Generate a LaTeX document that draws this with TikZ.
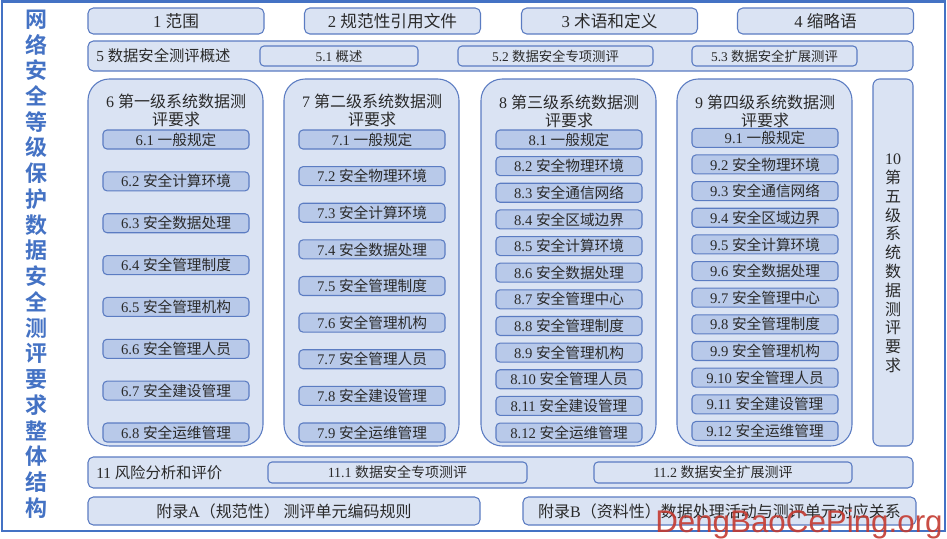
\documentclass[tikz,border=0pt]{standalone}
\usepackage{fontspec}
\setmainfont{Liberation Serif}
\newfontfamily\zh{Noto Sans CJK SC}
\newfontfamily\zhb{Noto Sans CJK SC Bold}
\newfontfamily\wm{Liberation Sans}
\definecolor{fillA}{HTML}{DAE3F3}
\definecolor{fillB}{HTML}{B8C9E9}
\definecolor{edgeA}{HTML}{5B7CC2}
\definecolor{titleblue}{HTML}{4472C4}
\definecolor{txt}{HTML}{2A2A2A}
\definecolor{wmred}{HTML}{C43A30}
\tikzset{
  lightbox/.style={draw=edgeA, line width=0.8pt, fill=fillA, rounded corners=4pt, inner sep=0pt, text=txt},
  itembox/.style={draw=edgeA, line width=0.8pt, fill=fillB, rounded corners=3pt, inner sep=0pt, text=txt,
    minimum width=109.5pt, minimum height=14.25pt, font=\fontsize{11}{12}\selectfont},
  colbox/.style={draw=edgeA, line width=0.8pt, fill=fillA, rounded corners=16pt, inner sep=0pt,
    minimum width=131.25pt, minimum height=275.25pt},
  coltitle/.style={align=center, text=txt, font=\fontsize{12}{13.5}\selectfont, inner sep=0pt},
  toprow/.style={lightbox, minimum width=132pt, minimum height=19.5pt, font=\fontsize{12.5}{13}\selectfont},
  subrow/.style={lightbox, rounded corners=3pt, minimum height=15pt, font=\fontsize{10}{11}\selectfont},
}
\begin{document}
\begin{tikzpicture}[x=0.75pt,y=-0.75pt]
\useasboundingbox (0,0) rectangle (947,539);
\fill[white] (0,0) rectangle (947,539);
% outer frame
\draw[titleblue, line width=1.5pt] (2,1.5) rectangle (945,531);
% vertical title
\node[text=titleblue, font=\zhb\fontsize{16.5}{19.3}\selectfont, align=center, inner sep=0pt] (title) at (37,264)
  {网\\络\\安\\全\\等\\级\\保\\护\\数\\据\\安\\全\\测\\评\\要\\求\\整\\体\\结\\构};
% row 1
\node[toprow] (s1) at (176,21) {1 \zh 范围};
\node[toprow] (s2) at (392.5,21) {2 \zh 规范性引用文件};
\node[toprow] (s3) at (609.5,21) {3 \zh 术语和定义};
\node[toprow] (s4) at (825.5,21) {4 \zh 缩略语};
% row 2
\node[lightbox, minimum width=618.75pt, minimum height=22.5pt] (s5) at (500.5,56) {};
\node[anchor=west, text=txt, inner sep=0pt, font=\fontsize{11.5}{12}\selectfont] (s5t) at (96,56) {5 \zh 数据安全测评概述};
\node[subrow, minimum width=118.5pt] (s51) at (339,56) {5.1 \zh 概述};
\node[subrow, minimum width=146.25pt] (s52) at (555.5,56) {5.2 \zh 数据安全专项测评};
\node[subrow, minimum width=123.75pt] (s53) at (774.5,56) {5.3 \zh 数据安全扩展测评};
% columns
\node[colbox] (c6) at (175.5,262.5) {};
\node[colbox] (c7) at (371.5,262.5) {};
\node[colbox] (c8) at (568.5,262.5) {};
\node[colbox] (c9) at (764.5,262.5) {};
\node[colbox, rounded corners=5pt, minimum width=30pt] (c10) at (893,262.5) {};
\node[coltitle] (t6) at (176,110.5) {6 \zh 第一级系统数据测\\\zh 评要求};
\node[coltitle] (t7) at (372,110.5) {7 \zh 第二级系统数据测\\\zh 评要求};
\node[coltitle] (t8) at (569,111) {8 \zh 第三级系统数据测\\\zh 评要求};
\node[coltitle] (t9) at (765,111) {9 \zh 第四级系统数据测\\\zh 评要求};
\node[coltitle, font=\fontsize{12}{14.1}\selectfont] (t10) at (893,263.5)
  {10\\\zh 第\\\zh 五\\\zh 级\\\zh 系\\\zh 统\\\zh 数\\\zh 据\\\zh 测\\\zh 评\\\zh 要\\\zh 求};
% column 6 items
\foreach \k/\n/\t in {0/1/一般规定,1/2/安全计算环境,2/3/安全数据处理,3/4/安全管理制度,4/5/安全管理机构,5/6/安全管理人员,6/7/安全建设管理,7/8/安全运维管理}
  \node[itembox] (i6-\n) at (176,139.5+41.86*\k) {6.\n\ \zh \t};
% column 7 items
\foreach \k/\n/\t in {0/1/一般规定,1/2/安全物理环境,2/3/安全计算环境,3/4/安全数据处理,4/5/安全管理制度,5/6/安全管理机构,6/7/安全管理人员,7/8/安全建设管理,8/9/安全运维管理}
  \node[itembox] (i7-\n) at (372,139.5+36.625*\k) {7.\n\ \zh \t};
% column 8 items
\foreach \k/\n/\t in {0/1/一般规定,1/2/安全物理环境,2/3/安全通信网络,3/4/安全区域边界,4/5/安全计算环境,5/6/安全数据处理,6/7/安全管理中心,7/8/安全管理制度,8/9/安全管理机构,9/10/安全管理人员,10/11/安全建设管理,11/12/安全运维管理}
  \node[itembox] (i8-\n) at (569,139.5+26.64*\k) {8.\n\ \zh \t};
% column 9 items
\foreach \k/\n/\t in {0/1/一般规定,1/2/安全物理环境,2/3/安全通信网络,3/4/安全区域边界,4/5/安全计算环境,5/6/安全数据处理,6/7/安全管理中心,7/8/安全管理制度,8/9/安全管理机构,9/10/安全管理人员,10/11/安全建设管理,11/12/安全运维管理}
  \node[itembox] (i9-\n) at (765,137.8+26.65*\k) {9.\n\ \zh \t};
% row 11
\node[lightbox, minimum width=618.75pt, minimum height=23.25pt] (s11) at (500.5,472.5) {};
\node[anchor=west, text=txt, inner sep=0pt, font=\fontsize{11.5}{12}\selectfont] (s11t) at (96,472.5) {11 \zh 风险分析和评价};
\node[subrow, minimum width=194.25pt, minimum height=15.75pt, font=\fontsize{10.5}{11}\selectfont] (s111) at (397.5,472.5) {11.1 \zh 数据安全专项测评};
\node[subrow, minimum width=193.5pt, minimum height=15.75pt, font=\fontsize{10.5}{11}\selectfont] (s112) at (723,472.5) {11.2 \zh 数据安全扩展测评};
% appendices
\node[lightbox, minimum width=294pt, minimum height=21pt, font=\fontsize{12}{13}\selectfont] (apA) at (284,511)
  {\zh 附录{\rmfamily A}（规范性） 测评单元编码规则};
\node[lightbox, minimum width=294.75pt, minimum height=21pt, font=\fontsize{12}{13}\selectfont] (apB) at (719.5,511)
  {\zh 附录{\rmfamily B}（资料性）数据处理活动与测评单元对应关系};
% watermark
\node[anchor=base west, inner sep=0pt, text=wmred, text opacity=0.9, font=\wm\fontsize{23.5}{24}\selectfont] (wm) at (655,532) {DengBaoCePing.org};
\end{tikzpicture}
\end{document}
